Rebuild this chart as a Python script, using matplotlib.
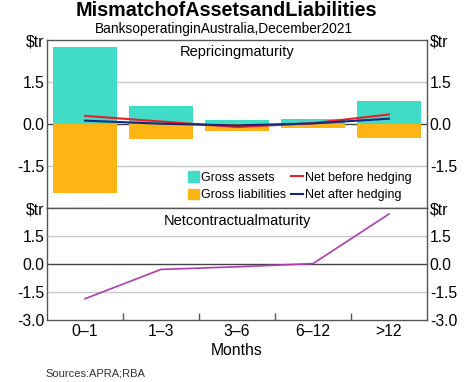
import matplotlib.pyplot as plt
from matplotlib.patches import Patch
from matplotlib.lines import Line2D
import numpy as np

plt.rcParams['font.family'] = ['Liberation Sans', 'DejaVu Sans']

categories = ['0\u20131', '1\u20133', '3\u20136', '6\u201312', '>12']
gross_assets = [2.74, 0.64, 0.13, 0.18, 0.83]
gross_liabilities = [-2.45, -0.55, -0.24, -0.15, -0.49]
net_before = [0.29, 0.09, -0.11, 0.03, 0.34]
net_after = [0.12, 0.01, -0.05, 0.02, 0.19]
net_contractual = [-1.86, -0.29, -0.15, 0.02, 2.68]

c_assets = '#40DCC8'
c_liab = '#FDB515'
c_before = '#E8202A'
c_after = '#16287A'
c_contract = '#B03AB0'
c_grid = '#C8C8C8'
c_frame = '#555555'
fs = 11.3

fig = plt.figure(figsize=(4.74, 3.82), dpi=100)
ax1 = fig.add_axes([47 / 474, 1 - 208 / 382, 380 / 474, 168 / 382])
ax2 = fig.add_axes([47 / 474, 1 - 320 / 382, 380 / 474, 112 / 382])

x = np.arange(len(categories))
ticks = [-3.0, -1.5, 0.0, 1.5, 3.0]


def style_axis(ax, labels):
    ax.set_xlim(-0.5, len(categories) - 0.5)
    ax.set_ylim(-3.0, 3.0)
    for v in [-1.5, 1.5]:
        ax.axhline(v, color=c_grid, lw=1, zorder=0)
    ax.axhline(0, color='#444444', lw=1, zorder=1)
    for s in ax.spines.values():
        s.set_color(c_frame)
        s.set_linewidth(1)
    ax.set_yticks(ticks)
    ax.set_yticklabels(labels)
    ax.tick_params(axis='y', which='both', length=0, labelsize=fs, pad=2,
                   right=True, labelright=True)


ax1.bar(x, gross_assets, width=0.84, color=c_assets, zorder=2)
ax1.bar(x, gross_liabilities, width=0.84, color=c_liab, zorder=2)
ax1.plot(x, net_before, color=c_before, lw=1.5, zorder=3)
ax1.plot(x, net_after, color=c_after, lw=1.5, zorder=3)
style_axis(ax1, ['', '-1.5', '0.0', '1.5', r'\$tr'])
ax1.set_xticks([])
ax1.text(0.5, 0.93, 'Repricingmaturity', transform=ax1.transAxes,
         ha='center', va='center', fontsize=10.5)

handles = [Patch(color=c_assets), Patch(color=c_liab),
           Line2D([], [], color=c_before, lw=1.5),
           Line2D([], [], color=c_after, lw=1.5)]
names = ['Gross assets', 'Gross liabilities', 'Net before hedging', 'Net after hedging']
ax1.legend(handles, names, ncol=2, loc='lower right',
           bbox_to_anchor=(0.96, 0.04),
           frameon=False, fontsize=9, handlelength=0.9, handleheight=0.9,
           handletextpad=0.2, columnspacing=0.4, labelspacing=0.4,
           borderaxespad=0, borderpad=0)

ax2.plot(x, net_contractual, color=c_contract, lw=1.2, zorder=3)
style_axis(ax2, ['-3.0', '-1.5', '0.0', '1.5', r'\$tr'])
ax2.set_xticks(x)
ax2.set_xticklabels(categories)
ax2.set_xticks(x[:-1] + 0.5, minor=True)
ax2.tick_params(axis='x', which='major', length=0, labelsize=fs, pad=3)
ax2.tick_params(axis='x', which='minor', direction='in', length=5,
                color=c_frame, width=1)
ax2.set_xlabel('Months', fontsize=fs, labelpad=3)
ax2.text(0.5, 0.88, 'Netcontractualmaturity', transform=ax2.transAxes,
         ha='center', va='center', fontsize=10.5)

fig.text(226 / 474, 1 - 10 / 382, 'MismatchofAssetsandLiabilities',
         ha='center', va='center', fontsize=14.2, fontweight='bold')
fig.text(224 / 474, 1 - 29 / 382, 'BanksoperatinginAustralia,December2021',
         ha='center', va='center', fontsize=9.9)
fig.text(45 / 474, 1 - 374 / 382, 'Sources:APRA;RBA',
         ha='left', va='center', fontsize=8, color='#333333')

fig.savefig('out.png', dpi=100)
